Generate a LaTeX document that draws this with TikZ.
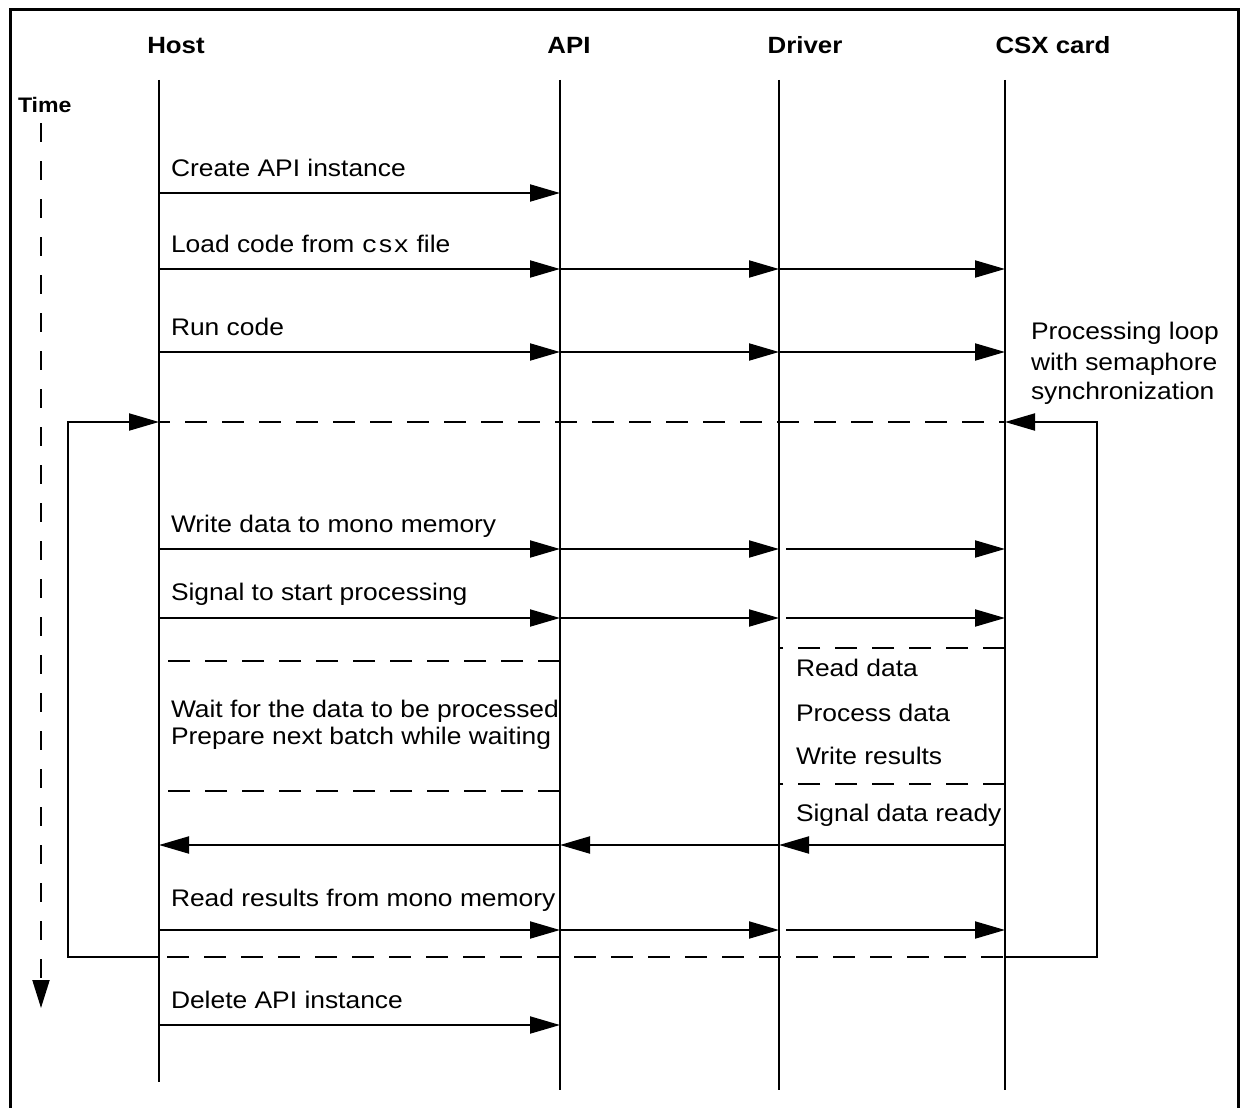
\documentclass[tikz,border=0pt]{standalone}
\usepackage{fontspec}
\setmainfont[FakeStretch=1.1]{Liberation Sans}
\setmonofont[FakeStretch=1.1]{Liberation Mono}
\usetikzlibrary{arrows.meta}
\begin{document}
\begin{tikzpicture}[x=1pt,y=-1pt,
  line width=2pt,
  lbl/.style={inner sep=0pt, anchor=base west, font=\fontsize{24}{29}\selectfont},
  hdr/.style={inner sep=0pt, anchor=base, font=\fontsize{23.5}{28}\selectfont\bfseries},
  msg/.style={-{Triangle[length=30pt,width=17pt]}},
  sep/.style={dash pattern=on 22pt off 15pt},
  tline/.style={dash pattern=on 19pt off 19pt, -{Triangle[length=28pt,width=17pt]}}]
\useasboundingbox (0,0) rectangle (1240,1108);
\draw[line width=3pt] (10,10) rectangle (1238,1125);

% headers
\node[hdr] (hH) at (176,54) {Host};
\node[hdr] (hA) at (569,54) {API};
\node[hdr] (hD) at (805,54) {Driver};
\node[hdr] (hC) at (1053,54) {CSX card};
\node[lbl, font=\fontsize{21}{25}\selectfont\bfseries] (time) at (17,112) {Time};

% lifelines
\coordinate (H0) at (159,80); \coordinate (H1) at (159,1082);
\coordinate (A0) at (560,80); \coordinate (A1) at (560,1090);
\coordinate (D0) at (779,80); \coordinate (D1) at (779,1090);
\coordinate (C0) at (1005,80); \coordinate (C1) at (1005,1090);
\draw (H0) -- (H1);
\draw (A0) -- (A1);
\draw (D0) -- (D1);
\draw (C0) -- (C1);

% time axis
\coordinate (T0) at (41,123); \coordinate (T1) at (41,1008);
\draw[tline] (T0) -- (T1);

% message rows
\foreach \n/\y in {cr/193,ld/269,rn/352,wr/549,sg/618,rd/845,rr/930,dl/1025}{
  \coordinate (H\n) at (159,\y);
  \coordinate (A\n) at (560,\y);
  \coordinate (D\n) at (779,\y);
  \coordinate (C\n) at (1005,\y);
}

\draw[msg] (Hcr) -- (Acr);
\foreach \n in {ld,rn}{
  \draw[msg] (H\n) -- (A\n);
  \draw[msg] (A\n) -- (D\n);
  \draw[msg] (D\n) -- (C\n);
}
\foreach \n in {wr,sg,rr}{
  \draw[msg] (H\n) -- (A\n);
  \draw[msg] (A\n) -- (D\n);
  \draw[msg, shorten <=7pt] (D\n) -- (C\n);
}
\draw[msg] (Crd) -- (Drd);
\draw[msg] (Drd) -- (Ard);
\draw[msg] (Ard) -- (Hrd);
\draw[msg] (Hdl) -- (Adl);

% loop
\coordinate (Hlt) at (159,422); \coordinate (Clt) at (1005,422);
\coordinate (Hlb) at (159,957); \coordinate (Clb) at (1005,957);
\coordinate (LLt) at (68,422); \coordinate (LLb) at (68,957);
\coordinate (RLt) at (1097,422); \coordinate (RLb) at (1097,957);
\draw[msg] (Hlb) -- (LLb) -- (LLt) -- (Hlt);
\draw[msg] (Clb) -- (RLb) -- (RLt) -- (Clt);
\draw[sep, dash phase=-26pt] (Hlt) -- (Clt);
\draw[sep, dash phase=-8pt] (Hlb) -- (Clb);

% separators
\coordinate (Hw1) at (159,661); \coordinate (Aw1) at (560,661);
\coordinate (Hw2) at (159,791); \coordinate (Aw2) at (560,791);
\coordinate (Dp1) at (779,648); \coordinate (Cp1) at (1005,648);
\coordinate (Dp2) at (779,784); \coordinate (Cp2) at (1005,784);
\draw[sep] (Aw1) -- (Hw1);
\draw[sep] (Aw2) -- (Hw2);
\draw[sep] (Cp1) -- (Dp1);
\draw[sep] (Cp2) -- (Dp2);

% labels
\node[lbl] (l1) at (170,176) {Create API instance};
\node[lbl] (l2) at (170,252) {Load code from \texttt{csx} file};
\node[lbl] (l3) at (170,335) {Run code};
\node[lbl] (l4) at (170,532) {Write data to mono memory};
\node[lbl] (l5) at (170,600) {Signal to start processing};
\node[lbl] (l6) at (170,717) {Wait for the data to be processed};
\node[lbl] (l7) at (170,744) {Prepare next batch while waiting};
\node[lbl] (l8) at (795,676) {Read data};
\node[lbl] (l9) at (795,721) {Process data};
\node[lbl] (l10) at (795,764) {Write results};
\node[lbl] (l11) at (795,821) {Signal data ready};
\node[lbl] (l12) at (170,906) {Read results from mono memory};
\node[lbl] (l13) at (170,1008) {Delete API instance};
\node[lbl] (p1) at (1030,339) {Processing loop};
\node[lbl] (p2) at (1030,370) {with semaphore};
\node[lbl] (p3) at (1030,399) {synchronization};
\end{tikzpicture}
\end{document}
